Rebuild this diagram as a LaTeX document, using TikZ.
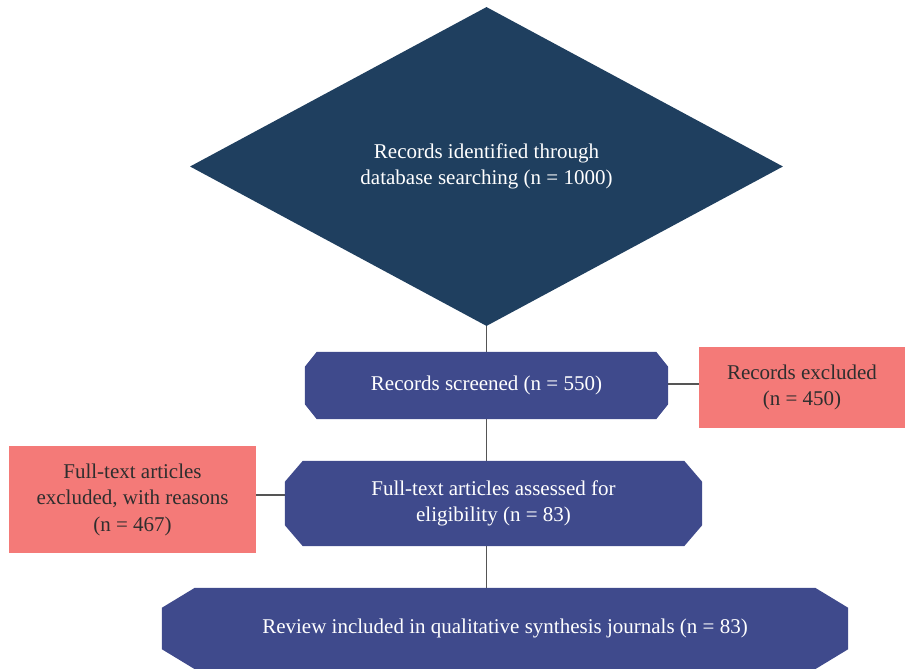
\documentclass[tikz,border=0pt]{standalone}
\usepackage{fontspec}
\setmainfont{Liberation Serif}
\usetikzlibrary{shapes.geometric}
\definecolor{navy}{HTML}{1F3F5F}
\definecolor{boxblue}{HTML}{3F4A8C}
\definecolor{boxpink}{HTML}{F47A78}
\definecolor{linegray}{HTML}{555555}
\definecolor{darktext}{HTML}{2E2E2E}
\newcommand\octfill[4]{%
  \fill[#4] ([xshift=#2]#1.north west) -- ([xshift=-#2]#1.north east)
    -- ([yshift=-#3]#1.north east) -- ([yshift=#3]#1.south east)
    -- ([xshift=-#2]#1.south east) -- ([xshift=#2]#1.south west)
    -- ([yshift=#3]#1.south west) -- ([yshift=-#3]#1.north west) -- cycle;}
\begin{document}
\begin{tikzpicture}[x=1pt,y=-1pt,
  every node/.style={font=\fontsize{21}{26.5}\selectfont, align=center, inner sep=0pt},
  lighttext/.style={text=white},
  pinkbox/.style={rectangle, fill=boxpink, text=darktext},
  octbox/.style={rectangle, text=white},
  conn/.style={draw=linegray, line width=1.2pt}]
\useasboundingbox (0,0) rectangle (905,669);
\node[diamond, fill=navy, minimum width=593pt, minimum height=319pt, lighttext] (id) at (486.5,166.5) {Records identified through\\database searching (n = 1000)};
\node[octbox, minimum width=363pt, minimum height=67pt] (scr) at (486.5,385.5) {};
\node[octbox, minimum width=417pt, minimum height=85pt] (ass) at (493.5,503.5) {};
\node[octbox, minimum width=686pt, minimum height=81pt] (rev) at (505,628.5) {};
\node[pinkbox, minimum width=206pt, minimum height=81pt] (exc) at (802,387.5) {Records excluded\\(n = 450)};
\node[pinkbox, minimum width=247pt, minimum height=107pt] (fte) at (132.5,499.5) {Full-text articles\\excluded, with reasons\\(n = 467)};
\draw[conn] (id.south) -- (id.south |- scr.north);
\draw[conn] (id.south |- scr.south) -- (id.south |- ass.north);
\draw[conn] (id.south |- ass.south) -- (id.south |- rev.north);
\draw[conn] ([yshift=1.5pt]scr.east) -- ([yshift=1.5pt]scr.east -| exc.west);
\draw[conn] ([yshift=4.5pt]fte.east) -- ([yshift=4.5pt]fte.east -| ass.west);
\octfill{scr}{12pt}{15pt}{boxblue}
\octfill{ass}{18pt}{21pt}{boxblue}
\octfill{rev}{33pt}{20pt}{boxblue}
\node[lighttext] at (scr.center) {Records screened (n = 550)};
\node[lighttext] at (ass.center) {Full-text articles assessed for\\eligibility (n = 83)};
\node[lighttext] at (rev.center) {Review included in qualitative synthesis journals (n = 83)};
\end{tikzpicture}
\end{document}
